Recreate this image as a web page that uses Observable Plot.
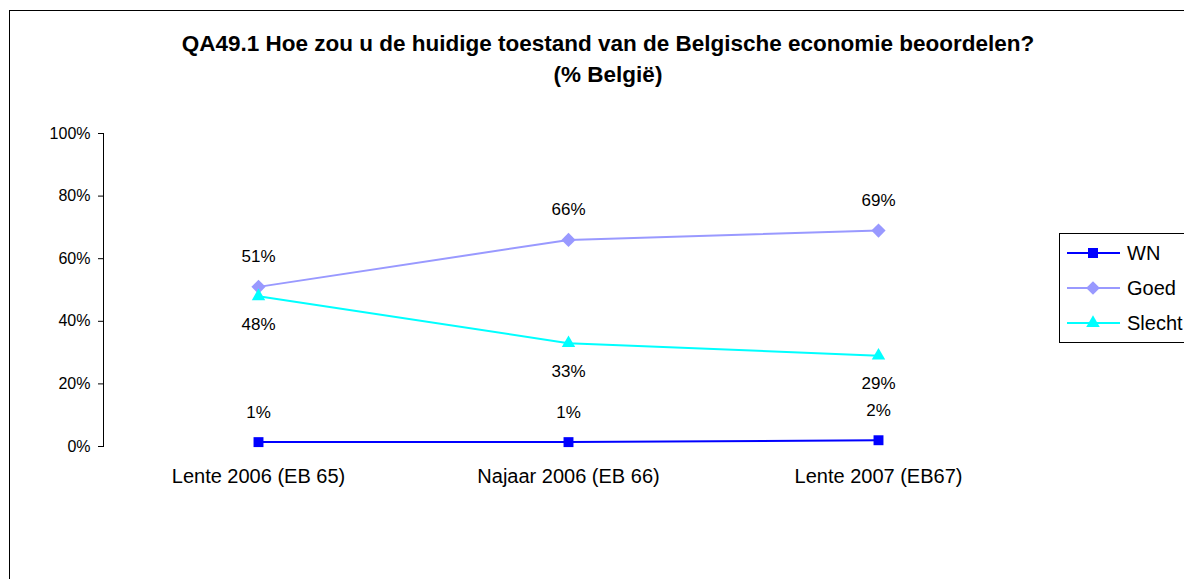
<!DOCTYPE html>
<html>
<head>
<meta charset="utf-8">
<script src="https://cdn.jsdelivr.net/npm/d3@7"></script>
<script src="https://cdn.jsdelivr.net/npm/@observablehq/plot@0.6"></script>
<style>
  html, body { margin: 0; padding: 0; background: #fff; overflow: hidden; }
  #wrap { position: relative; width: 1184px; height: 579px; overflow: hidden; font-family: "Liberation Sans", Arial, sans-serif; }
  #border { position: absolute; left: 9px; top: 10px; width: 1400px; height: 800px; border: 1px solid #000; box-sizing: border-box; }
  #title { position: absolute; left: 108px; top: 28px; width: 1000px; text-align: center; font-weight: bold; font-size: 22.5px; line-height: 31px; color: #000; }
  #chart { position: absolute; left: 0; top: 0; }
  #legend { position: absolute; left: 1059px; top: 233px; width: 200px; height: 110px; border: 1px solid #000; box-sizing: border-box; background: #fff; }
</style>
</head>
<body>
<div id="wrap">
  <div id="border"></div>
  <div id="title">QA49.1 Hoe zou u de huidige toestand van de Belgische economie beoordelen?<br>(% België)</div>
  <div id="chart"></div>
  <div id="legend"></div>
</div>
<script>
const categories = ["Lente 2006 (EB 65)", "Najaar 2006 (EB 66)", "Lente 2007 (EB67)"];
const seriesNames = ["WN", "Goed", "Slecht"];
const wn = [1.4, 1.4, 2.0];
const goed = [51, 66, 69];
const slecht = [48, 33, 29];
const yTicks = [0, 20, 40, 60, 80, 100];
const colors = ["#0000ff", "#9999ff", "#00ffff"];
const symbols = ["square", "diamond2", "triangle"];

const seriesValues = {WN: wn, Goed: goed, Slecht: slecht};
const data = seriesNames.flatMap(s => categories.map((c, i) => ({cat: c, series: s, value: seriesValues[s][i]})));

const font = "'Liberation Sans', Arial, sans-serif";
const only = s => d => d.series === s;

const chart = Plot.plot({
  width: 1184,
  height: 579,
  marginLeft: 103,
  marginRight: 151,
  marginTop: 133,
  marginBottom: 133,
  style: {fontFamily: font, background: "transparent", color: "#000", overflow: "visible"},
  x: {type: "point", domain: categories, padding: 0.5, label: null},
  y: {domain: [0, 100], label: null},
  color: {domain: seriesNames, range: colors},
  symbol: {domain: seriesNames, range: symbols},
  marks: [
    Plot.axisY({ticks: yTicks, tickFormat: d => d + "%", tickSize: 5, tickPadding: 8, fontSize: 16, label: null}),
    Plot.frame({anchor: "left"}),
    Plot.axisX({tickSize: 0, tickPadding: 22, fontSize: 20, label: null}),
    Plot.line(data, {x: "cat", y: "value", z: "series", stroke: "series", strokeWidth: 2}),
    Plot.dot(data, {filter: only("WN"), x: "cat", y: "value", symbol: "series", fill: "series", r: 5.6}),
    Plot.dot(data, {filter: only("Goed"), x: "cat", y: "value", symbol: "series", fill: "series", r: 6.4}),
    Plot.dot(data, {filter: only("Slecht"), x: "cat", y: "value", symbol: "series", fill: "series", r: 5}),
    Plot.text(data, {filter: d => d.series !== "Slecht", x: "cat", y: "value", text: d => Math.round(d.value) + "%", dy: -30, fontSize: 17, fill: "#000"}),
    Plot.text(data, {filter: only("Slecht"), x: "cat", y: "value", text: d => Math.round(d.value) + "%", dy: 28, fontSize: 17, fill: "#000"})
  ]
});
document.getElementById("chart").appendChild(chart);

// Legend
const leg = d3.select("#legend").append("svg").attr("width", 200).attr("height", 110).style("position", "absolute").style("left", "-1px").style("top", "-1px");
const sizes = [100, 120, 80];
seriesNames.forEach((s, i) => {
  const y = 20 + i * 35;
  const g = leg.append("g");
  g.append("line").attr("x1", 8).attr("x2", 61).attr("y1", y).attr("y2", y).attr("stroke", colors[i]).attr("stroke-width", 2);
  const sym = [d3.symbolSquare, d3.symbolDiamond2, d3.symbolTriangle][i];
  g.append("path").attr("d", d3.symbol(sym, sizes[i])()).attr("transform", `translate(34,${y})`).attr("fill", colors[i]);
  g.append("text").attr("x", 68).attr("y", y).attr("dy", "0.35em").attr("font-size", 20).attr("font-family", font).attr("fill", "#000").text(s);
});
</script>
</body>
</html>
